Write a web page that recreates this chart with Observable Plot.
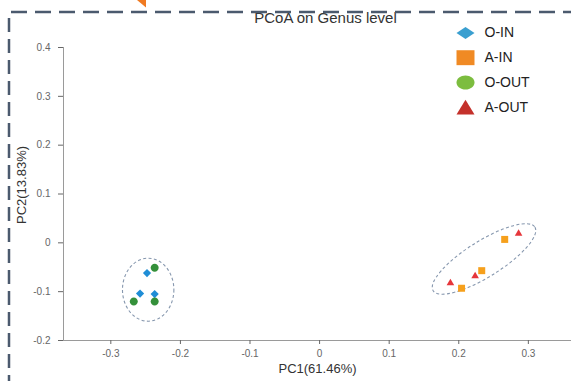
<!DOCTYPE html>
<html>
<head>
<meta charset="utf-8">
<script src="https://cdn.jsdelivr.net/npm/d3@7"></script>
<script src="https://cdn.jsdelivr.net/npm/@observablehq/plot@0.6"></script>
<style>
  html, body { margin: 0; padding: 0; background: #fff; }
  #wrap { position: relative; width: 571px; height: 381px; overflow: hidden; background: #fff; }
  #wrap svg.deco { position: absolute; left: 0; top: 0; pointer-events: none; }
</style>
</head>
<body>
<div id="wrap"></div>
<script>
// ---- data ----
const groups = ["O-IN", "A-IN", "O-OUT", "A-OUT"];
const oInX  = [-0.248, -0.258, -0.237];
const oInY  = [-0.062, -0.104, -0.105];
const aInX  = [0.266, 0.233, 0.204];
const aInY  = [0.007, -0.057, -0.093];
const oOutX = [-0.237, -0.267, -0.237];
const oOutY = [-0.051, -0.120, -0.120];
const aOutX = [0.286, 0.2235, 0.188];
const aOutY = [0.021, -0.066, -0.080];
const xTicks = [-0.3, -0.2, -0.1, 0, 0.1, 0.2, 0.3];
const yTicks = [-0.2, -0.1, 0, 0.1, 0.2, 0.3, 0.4];
const titleText = "PCoA on Genus level";
const xLabel = "PC1(61.46%)";
const yLabel = "PC2(13.83%)";
// cluster ellipses: centers in data units
const ellipseCx = [-0.2456, 0.237];
const ellipseCy = [-0.097, -0.034];

// ---- styling ----
const xDomain = [-0.368, 0.362];
const yDomain = [-0.2, 0.4];
const pointColors  = ["#1f8dd6", "#f6a01c", "#34903a", "#e6363b"];
const legendColors = ["#3a9fd0", "#f08a24", "#7cbd3f", "#c4312b"];
const ellipseRx = [25.7, 60], ellipseRy = [31.5, 18], ellipseAngle = [0, -32];

function diamondSym(ky) { return { draw(c, size) { const r = Math.sqrt(size / Math.PI); c.moveTo(0, -r * ky); c.lineTo(r, 0); c.lineTo(0, r * ky); c.lineTo(-r, 0); c.closePath(); } }; }
function rectSym(ky) { return { draw(c, size) { const r = Math.sqrt(size / Math.PI); c.rect(-r, -r * ky, 2 * r, 2 * r * ky); } }; }
function ellSym(ky) { return { draw(c, size) { const r = Math.sqrt(size / Math.PI), h = r * ky, k = 0.5523;
  c.moveTo(r, 0);
  c.bezierCurveTo(r, h * k, r * k, h, 0, h);
  c.bezierCurveTo(-r * k, h, -r, h * k, -r, 0);
  c.bezierCurveTo(-r, -h * k, -r * k, -h, 0, -h);
  c.bezierCurveTo(r * k, -h, r, -h * k, r, 0);
  c.closePath(); } }; }
function triSym(ky) { return { draw(c, size) { const r = Math.sqrt(size / Math.PI); c.moveTo(0, -r * ky); c.lineTo(r, r * ky); c.lineTo(-r, r * ky); c.closePath(); } }; }

const pointSymbols  = [diamondSym(1), rectSym(1), ellSym(1), triSym(0.85)];
const pointR        = [4.1, 3.5, 4, 3.8];
const legendSymbols = [diamondSym(0.67), rectSym(0.83), ellSym(0.78), triSym(0.83)];

const series = [[oInX, oInY], [aInX, aInY], [oOutX, oOutY], [aOutX, aOutY]];
const fmt = d => (d === 0 ? "0" : String(d));

function ellipsesMark(index, scales) {
  const g = d3.create("svg:g");
  ellipseCx.forEach((cx, i) => {
    const X = scales.x(cx), Y = scales.y(ellipseCy[i]);
    g.append("ellipse")
      .attr("cx", X).attr("cy", Y)
      .attr("rx", ellipseRx[i]).attr("ry", ellipseRy[i])
      .attr("transform", `rotate(${ellipseAngle[i]} ${X} ${Y})`)
      .attr("fill", "none").attr("stroke", "#8697ae")
      .attr("stroke-width", 1.1).attr("stroke-dasharray", "3,2.4");
  });
  return g.node();
}

const marks = [
  Plot.ruleY([yDomain[0]], {stroke: "#9a9a9a", insetLeft: -5}),
  Plot.ruleX([xDomain[0]], {stroke: "#9a9a9a"}),
  Plot.axisX({ticks: xTicks, tickSize: 4, tickPadding: 5, tickFormat: fmt, fontSize: 10, color: "#666", label: null}),
  Plot.axisY({ticks: yTicks, tickSize: 5, tickPadding: 8, tickFormat: fmt, fontSize: 10, color: "#666", label: null}),
  ellipsesMark,
  ...series.map(([xs, ys], i) => Plot.dot(xs.map((x, j) => ({x, y: ys[j], g: groups[i]})), {
    x: "x", y: "y", symbol: pointSymbols[i], r: pointR[i], fill: pointColors[i], stroke: null
  })),
  Plot.text([titleText], {frameAnchor: "top", dx: 8, dy: -29, lineAnchor: "middle", fontSize: 15, fill: "#333"}),
  Plot.text([xLabel], {frameAnchor: "bottom", dx: 0, dy: 28, lineAnchor: "middle", fontSize: 13, fill: "#333"}),
  Plot.text([yLabel], {frameAnchor: "left", dx: -42, dy: -9, rotate: -90, lineAnchor: "middle", textAnchor: "middle", fontSize: 13, fill: "#333"}),
  ...groups.map((g, i) => Plot.dot([g], {frameAnchor: "top-right", dx: -106, dy: -14.5 + i * 24.7, symbol: legendSymbols[i], r: 9, fill: legendColors[i], stroke: null})),
  ...groups.map((g, i) => Plot.text([g], {frameAnchor: "top-right", dx: -87, dy: -14.5 + i * 24.7, textAnchor: "start", lineAnchor: "middle", fontSize: 14, fill: "#222"}))
];

const chart = Plot.plot({
  width: 571, height: 381,
  marginLeft: 63, marginRight: 0, marginTop: 47, marginBottom: 41,
  x: {domain: xDomain},
  y: {domain: yDomain},
  style: {fontFamily: "'Liberation Sans', Arial, sans-serif", background: "#fff", overflow: "visible"},
  marks
});
const wrap = document.getElementById("wrap");
wrap.appendChild(chart);

// screenshot frame decoration (dashed border + arrow tip)
const deco = d3.select(wrap).append("svg").attr("class", "deco").attr("width", 571).attr("height", 381);
deco.append("path").attr("d", "M11,12H571").attr("stroke", "#4b5a6e").attr("stroke-width", 2.5).attr("stroke-dasharray", "16 8").attr("fill", "none");
deco.append("path").attr("d", "M9,18V381").attr("stroke", "#4b5a6e").attr("stroke-width", 2.5).attr("stroke-dasharray", "14 7").attr("fill", "none");
deco.append("path").attr("d", "M137,0H146V7.5Z").attr("fill", "#f07a22");
</script>
</body>
</html>
